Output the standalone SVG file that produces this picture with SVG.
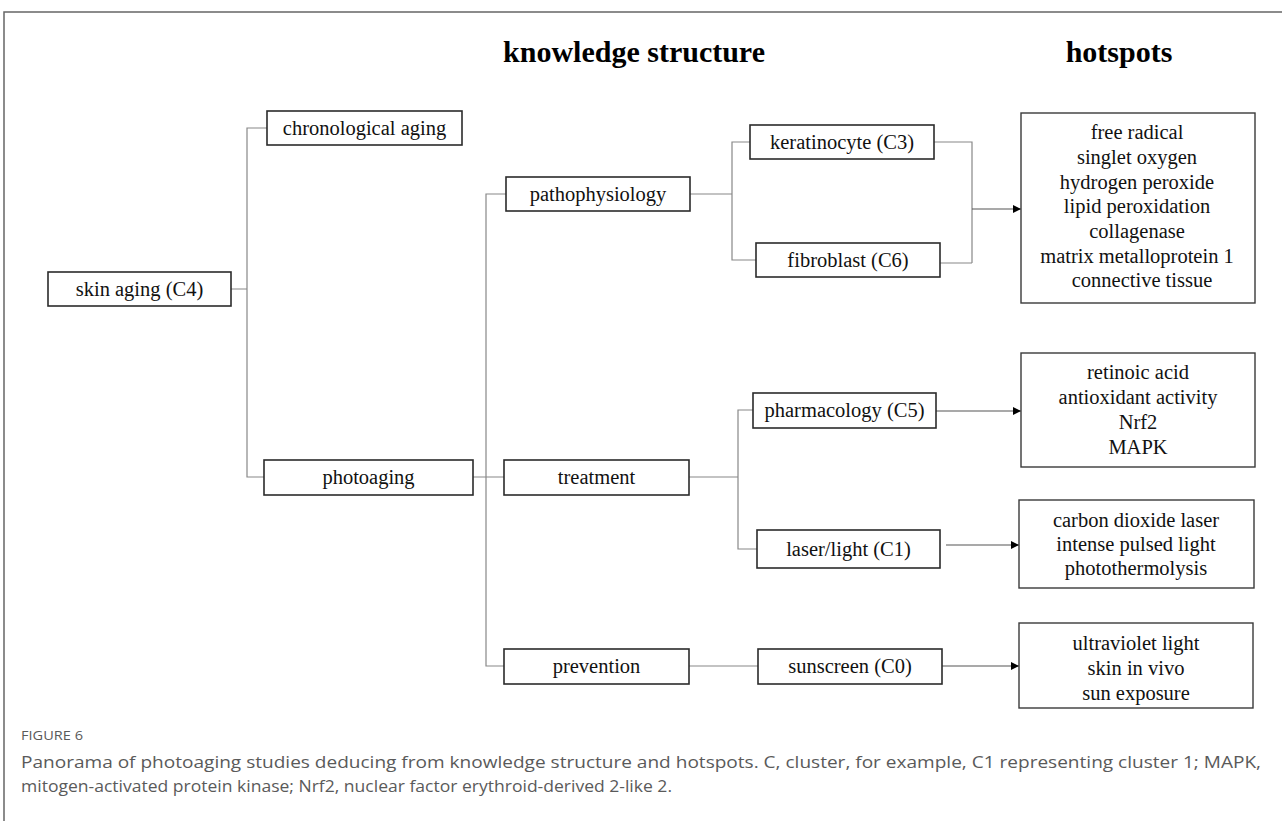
<svg xmlns="http://www.w3.org/2000/svg" width="1282" height="821" viewBox="0 0 1282 821">
<style>
.box{fill:#fff;stroke:#2b2b2b;stroke-width:1.6}
.hb{fill:#fff;stroke:#3a3a3a;stroke-width:1.4}
.t{font-family:"Liberation Serif","Times New Roman",serif;font-size:20.5px;fill:#111;text-anchor:middle}
.h{font-family:"Liberation Serif","Times New Roman",serif;font-size:30px;font-weight:bold;fill:#000;text-anchor:middle}
.c{fill:none;stroke:#888;stroke-width:1.2}
.a{fill:none;stroke:#555;stroke-width:1.2;marker-end:url(#arr)}
.cap{font-family:"Open Sans","Noto Sans",sans-serif;fill:#5a5a5a}
</style>
<defs>
<marker id="arr" viewBox="0 0 10 10" refX="10" refY="5" markerWidth="8" markerHeight="8" markerUnits="userSpaceOnUse" orient="auto">
<path d="M0,0 L10,5 L0,10 Z" fill="#000"/>
</marker>
</defs>
<rect width="1282" height="821" fill="#fff"/>
<path d="M4,821 V12 H1282" fill="none" stroke="#666" stroke-width="1.5"/>
<text class="h" x="634" y="62">knowledge structure</text>
<text class="h" x="1119" y="62">hotspots</text>
<g id="connectors">
<path class="c" d="M231,289 H247 M267,128 H247 V477 H264"/>
<path class="c" d="M473,477 H504 M506,194 H486 V666 H504"/>
<path class="c" d="M690,194 H732 M750,142 H732 V260 H756"/>
<path class="c" d="M934,142 H972 V263 M940,263 H972"/>
<path class="a" d="M972,209 H1021"/>
<path class="c" d="M689,477 H738 M753,410 H738 V549 H757"/>
<path class="a" d="M936,411 H1021"/>
<path class="a" d="M946,545 H1019"/>
<path class="c" d="M689,666 H758"/>
<path class="a" d="M942,666 H1019"/>
</g>
<g id="skin-aging"><rect class="box" x="48" y="272" width="183" height="34"/><text class="t" x="139.5" y="296">skin aging (C4)</text></g>
<g id="chronological-aging"><rect class="box" x="267" y="111" width="195" height="34"/><text class="t" x="364.5" y="135">chronological aging</text></g>
<g id="photoaging"><rect class="box" x="264" y="460" width="209" height="35"/><text class="t" x="368.5" y="484">photoaging</text></g>
<g id="pathophysiology"><rect class="box" x="506" y="177" width="184" height="34"/><text class="t" x="598" y="201">pathophysiology</text></g>
<g id="treatment"><rect class="box" x="504" y="460" width="185" height="35"/><text class="t" x="596.5" y="484">treatment</text></g>
<g id="prevention"><rect class="box" x="504" y="649" width="185" height="35"/><text class="t" x="596.5" y="673">prevention</text></g>
<g id="keratinocyte"><rect class="box" x="750" y="125" width="184" height="34"/><text class="t" x="842" y="149">keratinocyte (C3)</text></g>
<g id="fibroblast"><rect class="box" x="756" y="243" width="184" height="34"/><text class="t" x="848" y="267">fibroblast (C6)</text></g>
<g id="pharmacology"><rect class="box" x="753" y="393" width="183" height="35"/><text class="t" x="844.5" y="417">pharmacology (C5)</text></g>
<g id="laser-light"><rect class="box" x="757" y="530" width="183" height="38"/><text class="t" x="848.5" y="556">laser/light (C1)</text></g>
<g id="sunscreen"><rect class="box" x="758" y="649" width="184" height="35"/><text class="t" x="850" y="673">sunscreen (C0)</text></g>
<g id="hotspots-1"><rect class="hb" x="1021" y="113" width="234" height="190"/>
<text class="t" x="1137" y="139">free radical</text>
<text class="t" x="1137" y="164">singlet oxygen</text>
<text class="t" x="1137" y="189">hydrogen peroxide</text>
<text class="t" x="1137" y="213">lipid peroxidation</text>
<text class="t" x="1137" y="238">collagenase</text>
<text class="t" x="1137" y="263">matrix metalloprotein 1</text>
<text class="t" x="1142" y="287">connective tissue</text></g>
<g id="hotspots-2"><rect class="hb" x="1021" y="353" width="234" height="114"/>
<text class="t" x="1138" y="379">retinoic acid</text>
<text class="t" x="1138" y="404">antioxidant activity</text>
<text class="t" x="1138" y="429">Nrf2</text>
<text class="t" x="1138" y="454">MAPK</text></g>
<g id="hotspots-3"><rect class="hb" x="1019" y="500" width="235" height="88"/>
<text class="t" x="1136" y="527">carbon dioxide laser</text>
<text class="t" x="1136" y="551">intense pulsed light</text>
<text class="t" x="1136" y="575">photothermolysis</text></g>
<g id="hotspots-4"><rect class="hb" x="1019" y="623" width="234" height="85"/>
<text class="t" x="1136" y="650">ultraviolet light</text>
<text class="t" x="1136" y="675">skin in vivo</text>
<text class="t" x="1136" y="700">sun exposure</text></g>
<text class="cap" x="21" y="740" font-size="13" fill="#555" textLength="62" lengthAdjust="spacingAndGlyphs">FIGURE 6</text>
<text class="cap" x="21" y="768" font-size="17" textLength="1240" lengthAdjust="spacingAndGlyphs">Panorama of photoaging studies deducing from knowledge structure and hotspots. C, cluster, for example, C1 representing cluster 1; MAPK,</text>
<text class="cap" x="21" y="792" font-size="17" textLength="651" lengthAdjust="spacingAndGlyphs">mitogen-activated protein kinase; Nrf2, nuclear factor erythroid-derived 2-like 2.</text>
</svg>
